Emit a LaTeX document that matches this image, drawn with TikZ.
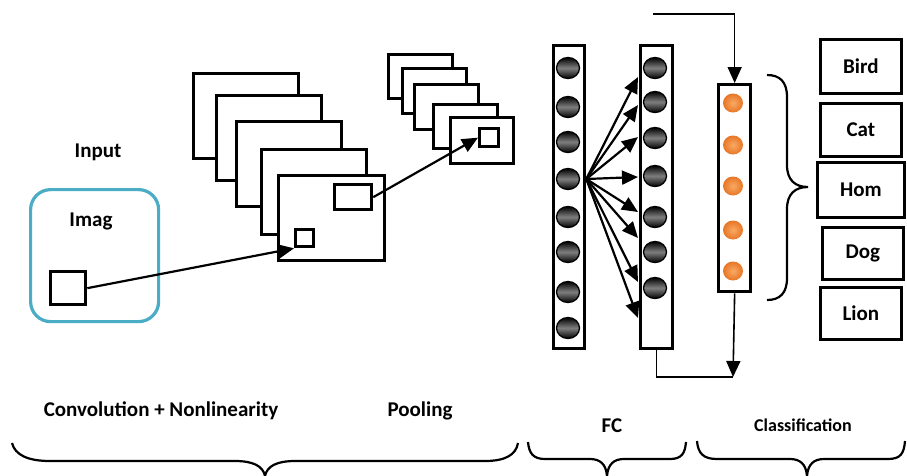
\documentclass[tikz,border=0pt]{standalone}
\usepackage{fontspec}
\setmainfont{Carlito}
\usetikzlibrary{arrows.meta,shapes.geometric}
\definecolor{inputblue}{RGB}{75,172,198}
\definecolor{orangein}{RGB}{248,170,100}
\definecolor{orangeout}{RGB}{232,118,38}
\tikzset{
  frame/.style={draw, line width=3.3pt, fill=white, inner sep=0pt, anchor=north west},
  clsbox/.style={draw, line width=2.7pt, fill=white, inner sep=0pt, anchor=north west},
  neuron/.style={ellipse, draw=black, line width=1.3pt, minimum width=23pt, minimum height=21pt, inner sep=0pt, top color=black, bottom color=black, middle color=black!50},
  outneuron/.style={ellipse, minimum width=20pt, minimum height=19pt, inner sep=0pt, shading=radial, inner color=orangein, outer color=orangeout},
  conn/.style={line width=2.2pt, -{Triangle[length=16pt,width=14pt]}},
  thinconn/.style={line width=1.6pt, -{Triangle[length=16pt,width=14pt]}},
  plain/.style={line width=1.6pt},
  lbl/.style={font=\fontsize{21}{25}\selectfont\bfseries, inner sep=0pt},
  brc/.style={line width=2.2pt}
}
\begin{document}
\begin{tikzpicture}[x=1pt,y=-1pt]
\useasboundingbox (0,0) rectangle (907,475);
% Input
\node[lbl] (inputlbl) at (98,152) {Input};
\node[draw=inputblue, line width=3.2pt, rounded corners=20pt, minimum width=128pt, minimum height=132pt, inner sep=0pt, anchor=north west] (inbox) at (29,188) {};
\node[lbl] (imaglbl) at (91,221) {Imag};
\node[frame, minimum width=35pt, minimum height=33pt] (insq) at (49,270) {};
% Convolution stack
\node[frame, minimum width=105pt, minimum height=85pt] (c1) at (192,72) {};
\node[frame, minimum width=105pt, minimum height=85pt] (c2) at (215,94) {};
\node[frame, minimum width=105pt, minimum height=85pt] (c3) at (235,120) {};
\node[frame, minimum width=105pt, minimum height=85pt] (c4) at (260,148) {};
\node[frame, minimum width=106pt, minimum height=85pt] (c5) at (277,174) {};
\node[frame, minimum width=18pt, minimum height=17pt] (s1) at (294,228) {};
\node[frame, minimum width=37pt, minimum height=25pt] (s2) at (333,183) {};
% Pooling stack
\node[frame, minimum width=64pt, minimum height=44pt] (p1) at (387,53) {};
\node[frame, minimum width=64pt, minimum height=45pt] (p2) at (401,67) {};
\node[frame, minimum width=64pt, minimum height=45pt] (p3) at (413,83) {};
\node[frame, minimum width=64pt, minimum height=44pt] (p4) at (432,103) {};
\node[frame, minimum width=63pt, minimum height=46pt] (p5) at (449,116) {};
\node[frame, minimum width=19pt, minimum height=18pt] (ps) at (478,127) {};
\draw[conn] (insq.east) -- (s1.south west);
\draw[conn] (s2.east) -- (ps.west);
% FC columns
\node[frame, minimum width=31pt, minimum height=303pt] (col1) at (552,44) {};
\node[frame, minimum width=32pt, minimum height=303pt] (col2) at (639,44) {};
\foreach \y [count=\i] in {68,107,142,179,217,252,292,328}
  \node[neuron] (a\i) at (568,\y) {};
\foreach \y [count=\i] in {68,102,138,176,217,252,288}
  \node[neuron] (b\i) at (655,\y) {};
\coordinate (src) at (col1.east |- a4);
\foreach \y [count=\i] in {77,105,137,177,212,238,282,318}
  \coordinate (t\i) at (638,\y);
\foreach \i in {1,...,8}
  \draw[conn] (src) -- (t\i);
% Output column
\node[frame, minimum width=32pt, minimum height=207pt] (out) at (717,83) {};
\foreach \y [count=\i] in {103,145,186,230,271}
  \node[outneuron] (o\i) at (733,\y) {};
\coordinate (topstart) at (653,14);
\draw[thinconn] (topstart) -| (out.north);
\coordinate (botjoin) at (733,377);
\draw[plain] (col2.south) |- (botjoin);
\draw[thinconn] (out.south) -- (botjoin);
% Right brace
\draw[brc] (767,75) .. controls (780,75) and (787,82) .. (787,97) -- (787,165)
  .. controls (787,180) and (795,187) .. (808,187)
  .. controls (795,187) and (787,194) .. (787,209) -- (787,278)
  .. controls (787,293) and (780,300) .. (767,300);
% Class boxes
\node[clsbox, minimum width=81pt, minimum height=54pt] (bird) at (819,38) {};
\node[lbl] at (bird.center) {Bird};
\node[clsbox, minimum width=81pt, minimum height=53pt] (cat) at (819,102) {};
\node[lbl] at (cat.center) {Cat};
\node[clsbox, minimum width=87pt, minimum height=55pt] (hom) at (816,161) {};
\node[lbl] at (hom.center) {Hom};
\node[clsbox, minimum width=81pt, minimum height=52pt] (dog) at (821,226) {};
\node[lbl] at (dog.center) {Dog};
\node[clsbox, minimum width=81pt, minimum height=52pt] (lion) at (819,286) {};
\node[lbl] at (lion.center) {Lion};
% Bottom labels
\node[lbl] (convlbl) at (161,411) {Convolution + Nonlinearity};
\node[lbl] (poollbl) at (420,411) {Pooling};
\node[lbl] (fclbl) at (612,426) {FC};
\node[lbl, font=\fontsize{18}{22}\selectfont\bfseries] (clslbl) at (803,425) {Classification};
% Bottom braces
\draw[brc] (12,443) .. controls (15,455) and (28,461) .. (50,461) -- (235,461)
  .. controls (253,461) and (263,466) .. (265,476)
  .. controls (267,466) and (277,461) .. (295,461) -- (485,461)
  .. controls (505,461) and (516,455) .. (518,443);
\draw[brc] (528,442) .. controls (529,453) and (533,459) .. (545,459) -- (590,459)
  .. controls (600,459) and (606,464) .. (607,476)
  .. controls (608,464) and (614,459) .. (624,459) -- (670,459)
  .. controls (682,459) and (685,453) .. (686,442);
\draw[brc] (697,441) .. controls (698,453) and (703,459) .. (717,459) -- (790,459)
  .. controls (800,459) and (806,464) .. (807,476)
  .. controls (808,464) and (814,459) .. (824,459) -- (888,459)
  .. controls (901,459) and (904,453) .. (905,441);
\end{tikzpicture}
\end{document}
